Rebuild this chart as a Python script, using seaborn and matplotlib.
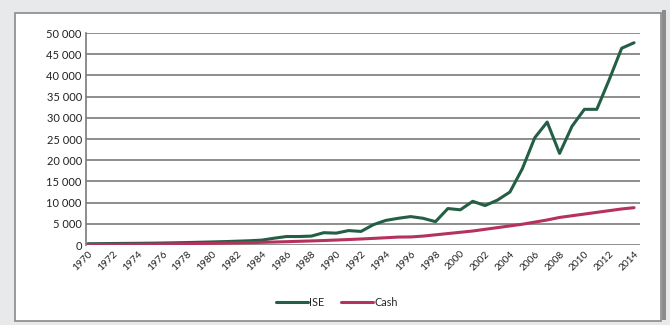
import pandas as pd
import matplotlib.pyplot as plt
import matplotlib.patches as patches
import seaborn as sns

# --- data ---
years = list(range(1970, 2015))
ise = [300, 320, 350, 380, 400, 430, 470, 520, 580, 650,
       720, 800, 900, 1000, 1150, 1600, 2000, 2000, 2100, 2900,
       2800, 3400, 3200, 4800, 5800, 6300, 6700, 6300, 5500, 8600,
       8300, 10300, 9300, 10600, 12500, 18000, 25300, 29000, 21600, 28000,
       32000, 32000, 39000, 46400, 47700]
cash = [100, 120, 140, 160, 180, 200, 230, 260, 300, 340,
        390, 440, 500, 560, 630, 700, 780, 870, 960, 1060,
        1170, 1290, 1420, 1560, 1710, 1870, 1900, 2100, 2400, 2700,
        3000, 3300, 3700, 4100, 4500, 4900, 5400, 5900, 6500, 6900,
        7300, 7700, 8100, 8500, 8800]
series_names = ['ISE', 'Cash']
series_colors = ['#235e45', '#b5325c']
y_ticks = list(range(0, 50001, 5000))
y_labels = ['0'] + [f'{v // 1000} 000' for v in y_ticks[1:]]
x_ticks = list(range(1970, 2015, 2))

df = pd.DataFrame({
    'year': years * 2,
    'value': ise + cash,
    'series': ['ISE'] * len(years) + ['Cash'] * len(years),
})

sns.set_style('white')
plt.rcParams['font.family'] = ['Lato', 'DejaVu Sans']

fig = plt.figure(figsize=(6.7, 3.25), dpi=100)
fig.patch.set_facecolor('#e8e9eb')

# white chart box with grey border and a right-hand shadow (behind the axes)
fig.patches.append(patches.Rectangle((662 / 670, 5 / 325), 4 / 670, 310 / 325,
                                     transform=fig.transFigure, facecolor='#8c8c8c',
                                     edgecolor='none', zorder=-2))
fig.patches.append(patches.Rectangle((15 / 670, 4 / 325), 646 / 670, 308 / 325,
                                     transform=fig.transFigure, facecolor='white',
                                     edgecolor='#8a8a8a', linewidth=1.2, zorder=-1))

ax = fig.add_axes([86 / 670, 80 / 325, 554 / 670, 212 / 325])
ax.set_facecolor('none')

sns.lineplot(data=df, x='year', y='value', hue='series', hue_order=series_names,
             palette=series_colors, linewidth=2.2, ax=ax)

ax.set_xlim(1969.84, 2014.48)
ax.set_ylim(0, 50000)
ax.set_yticks(y_ticks)
ax.set_yticklabels(y_labels, fontsize=8, color='#222222')
ax.set_xticks(x_ticks)
ax.set_xticklabels([str(y) for y in x_ticks], rotation=45, ha='right',
                   rotation_mode='anchor', fontsize=7.3, color='#222222')
ax.tick_params(axis='both', length=0, pad=3)
ax.set_xlabel('')
ax.set_ylabel('')

ax.grid(axis='y', color='#7a7a7a', linewidth=1.2)
ax.set_axisbelow(True)
for side in ['top', 'right', 'bottom']:
    ax.spines[side].set_visible(False)
ax.spines['left'].set_color('#7a7a7a')
ax.spines['left'].set_linewidth(1.2)

ax.legend(title=None, loc='center', bbox_to_anchor=(0.453, -0.27), ncol=2,
          frameon=False, fontsize=7.8, handlelength=3, handletextpad=0.1,
          columnspacing=1.5)

plt.savefig('out.png', dpi=100, facecolor=fig.get_facecolor())
